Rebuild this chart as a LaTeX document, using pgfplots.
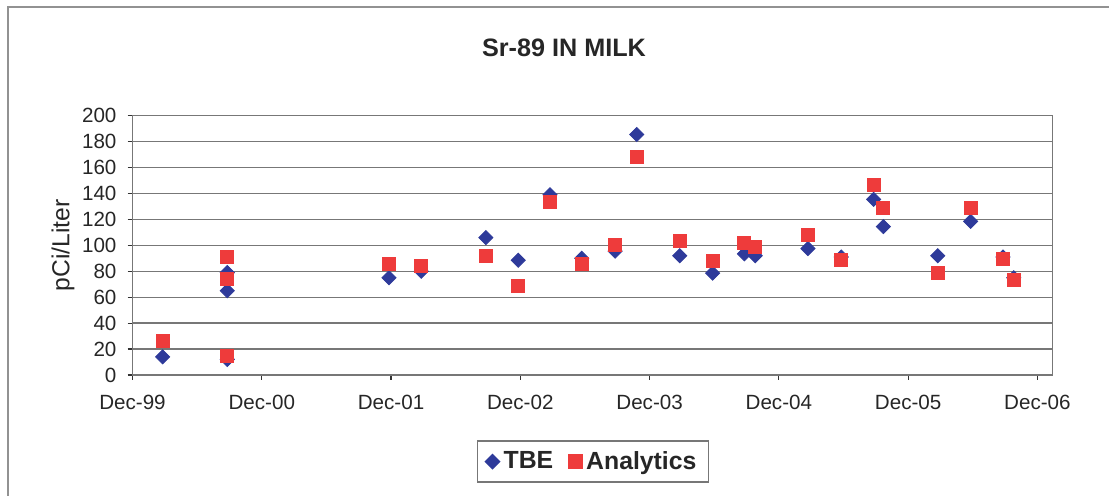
\documentclass[border=0pt]{standalone}
\usepackage{pgfplots}
\pgfplotsset{compat=1.18}
\usepackage{fontspec}
\setmainfont{Liberation Sans}
\definecolor{tbe}{HTML}{2E3A9A}
\definecolor{ana}{HTML}{EE3B3B}
\definecolor{gridc}{HTML}{777777}
\begin{document}
\begin{tikzpicture}[x=0.5pt,y=0.5pt]
\path[use as bounding box] (0,0) rectangle (1109,496);
\draw[gridc!80,line width=0.6pt] (8,0) -- (8,489) -- (1109,489);
% chart title, centred on the chart area
\node[font=\fontsize{12.6}{14}\selectfont\bfseries, text=black!85, inner sep=0pt] at (564,448.5) {Sr-89 IN MILK};
\begin{axis}[
  at={(66.25pt,60.5pt)}, anchor=south west,
  scale only axis, width=460pt, height=129.65pt,
  xmin=0, xmax=85.4, ymin=0, ymax=200,
  xtick={0,12,...,84},
  xticklabels={Dec-99,Dec-00,Dec-01,Dec-02,Dec-03,Dec-04,Dec-05,Dec-06},
  ytick={0,20,...,200},
  tick align=outside, tick pos=left,
  major tick length=2.5pt,
  ymajorgrids, grid style={gridc, line width=0.7pt},
  axis line style={gridc, line width=0.8pt},
  major tick style={black!80, line width=0.6pt},
  every tick label/.append style={font=\fontsize{10.3}{12}\selectfont, text=black!85},
  /pgf/number format/assume math mode=true,
  xticklabel style={yshift=-4pt},
  yticklabel style={xshift=-2pt},
  ylabel={pCi/Liter},
  ylabel style={font=\fontsize{12.3}{14}\selectfont, text=black!85, at={(rel axis cs:-0.0755,0.5)}, anchor=center},
  legend columns=2,
  legend style={at={(rel axis cs:0.5005,-0.334)}, anchor=center, draw=gridc, line width=0.7pt,
    font=\fontsize{12.4}{14}\selectfont\bfseries, text=black!85,
    inner xsep=4pt, inner ysep=3pt,
    /tikz/every even column/.append style={column sep=6pt}},
  legend cell align=left,
]
\addplot[only marks, mark=square*, mark size=2.5pt, mark options={rotate=45, fill=tbe, draw=tbe}]
  coordinates {
  (2.8,14) (8.8,79) (8.8,65) (8.8,12) (23.8,75) (26.8,80) (32.8,106) (35.8,88.5)
  (38.75,139) (41.7,90) (44.8,95.5) (46.8,185.5) (50.8,92) (53.85,78.5) (56.8,93.5)
  (57.8,92) (62.7,97.5) (65.8,91) (68.8,135.5) (69.7,114.5) (74.75,92) (77.8,118.5)
  (80.8,91) (81.8,75)
  };
\addlegendentry{TBE}
\addplot[only marks, mark=square*, mark size=3.25pt, mark options={fill=ana, draw=ana}]
  coordinates {
  (2.8,26) (8.8,91) (8.8,74) (8.8,15) (23.8,86) (26.8,84) (32.8,92) (35.8,69)
  (38.75,133.5) (41.7,85.5) (44.8,100) (46.8,168.5) (50.8,103.5) (53.85,88) (56.8,102)
  (57.8,99) (62.7,108) (65.8,88.5) (68.8,146.5) (69.7,128.5) (74.75,79) (77.8,129)
  (80.8,89.5) (81.8,73)
  };
\addlegendentry{Analytics}
\end{axis}
\end{tikzpicture}
\end{document}
